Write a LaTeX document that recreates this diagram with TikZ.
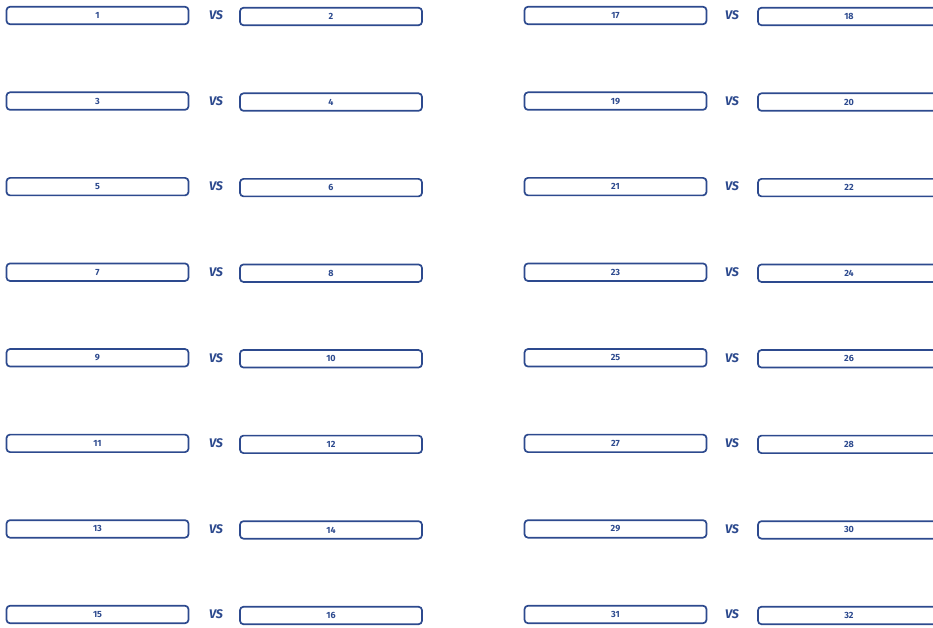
\documentclass[tikz,border=0pt]{standalone}
\usepackage{fontspec}
\setmainfont{Fira Sans}
\definecolor{navy}{HTML}{2D4A8E}
\begin{document}
\begin{tikzpicture}[x=1pt,y=-1pt,
  slot/.style={draw=navy,line width=1.7pt,rounded corners=3.5pt,minimum width=182pt,minimum height=17.5pt,inner sep=0pt,text=navy,font=\fontsize{9}{9}\selectfont\bfseries},
  vslabel/.style={text=navy,inner sep=0pt,font=\fontsize{12.5}{12.5}\selectfont\bfseries\itshape}]
\useasboundingbox (0,0) rectangle (933,628);
\clip (0,0) rectangle (933,628);
\foreach \i in {0,...,7}{
  \pgfmathsetmacro{\yy}{15.5+85.57*\i}
  \pgfmathtruncatemacro{\a}{2*\i+1}
  \pgfmathtruncatemacro{\b}{2*\i+2}
  \pgfmathtruncatemacro{\c}{2*\i+17}
  \pgfmathtruncatemacro{\d}{2*\i+18}
  \node[slot] (s\a) at (97.5,\yy) {\a};
  \node[vslabel] (v\a) at (216,\yy) {VS};
  \node[slot] (s\b) at (331,\yy+1) {\b};
  \node[slot] (s\c) at (615.5,\yy) {\c};
  \node[vslabel] (v\c) at (732,\yy) {VS};
  \node[slot] (s\d) at (849,\yy+1) {\d};
}
\end{tikzpicture}
\end{document}
